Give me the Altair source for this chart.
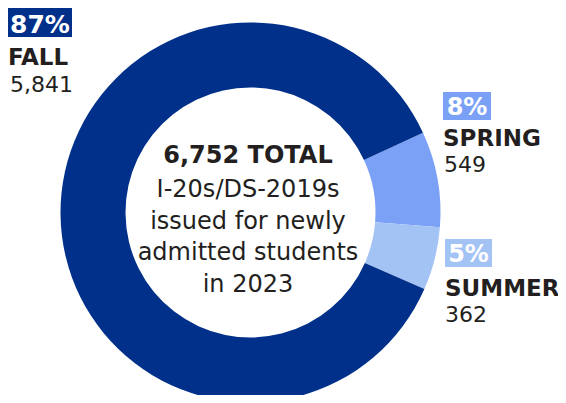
import math
import altair as alt
import pandas as pd

terms = ["Spring", "Summer", "Fall"]
counts = [549, 362, 5841]
order = [0, 1, 2]
colors = ["#7BA1F7", "#A4C3F5", "#00308A"]

pct_labels = ["8%", "5%", "87%"]
name_labels = ["SPRING", "SUMMER", "FALL"]
count_labels = ["549", "362", "5,841"]

center_lines = ["6,752 TOTAL", "I-20s/DS-2019s", "issued for newly", "admitted students", "in 2023"]

FONT = "DejaVu Sans"
INK = "#231F20"

df = pd.DataFrame({"term": terms, "count": counts, "ord": order})

start = math.radians(65.2)
CX, CY = 242.5, 204.5

donut = alt.Chart(df).mark_arc(outerRadius=190, innerRadius=125, stroke=None).encode(
    theta=alt.Theta("count:Q", stack=True, scale=alt.Scale(range=[start, start + 2 * math.pi])),
    color=alt.Color("term:N", scale=alt.Scale(domain=terms, range=colors), legend=None),
    order=alt.Order("ord:Q"),
    x=alt.value(CX),
    y=alt.value(CY),
)

one = pd.DataFrame({"a": [0]})


def box(x1, x2, y1, y2, color):
    return alt.Chart(one).mark_rect(color=color).encode(
        x=alt.value(x1), x2=alt.value(x2), y=alt.value(y1), y2=alt.value(y2)
    )


def txt(s, x, y, size, bold=False, color=INK, align="left"):
    return alt.Chart(pd.DataFrame({"t": [s]})).mark_text(
        font=FONT, fontSize=size, fontWeight="bold" if bold else "normal",
        color=color, align=align, baseline="alphabetic"
    ).encode(text="t:N", x=alt.value(x), y=alt.value(y))


layers = [donut]
# Fall label
layers += [box(0, 64, 0, 29, colors[2]), txt(pct_labels[2], 32, 25, 25, True, "white", "center"),
           txt(name_labels[2], 0, 57, 23, True), txt(count_labels[2], 2, 84, 22)]
# Spring label
layers += [box(435, 483, 84, 112, colors[0]), txt(pct_labels[0], 459, 107, 24, True, "white", "center"),
           txt(name_labels[0], 435, 138, 23, True), txt(count_labels[0], 436, 164, 22)]
# Summer label
layers += [box(437, 484, 231, 259, colors[1]), txt(pct_labels[1], 460.5, 254, 24, True, "white", "center"),
           txt(name_labels[1], 437, 288, 23, True), txt(count_labels[1], 437, 314, 22)]
# Center text
baselines = [155, 189, 221, 252, 284]
for i, (line, yb) in enumerate(zip(center_lines, baselines)):
    layers.append(txt(line, 240, yb, 24, i == 0, INK, "center"))

chart = alt.layer(*layers).properties(
    width=550, height=387, padding=0, autosize=alt.AutoSizeParams(type="none")
).configure_view(stroke=None)

chart.save("out.html", embed_options={"renderer": "svg", "actions": False})
